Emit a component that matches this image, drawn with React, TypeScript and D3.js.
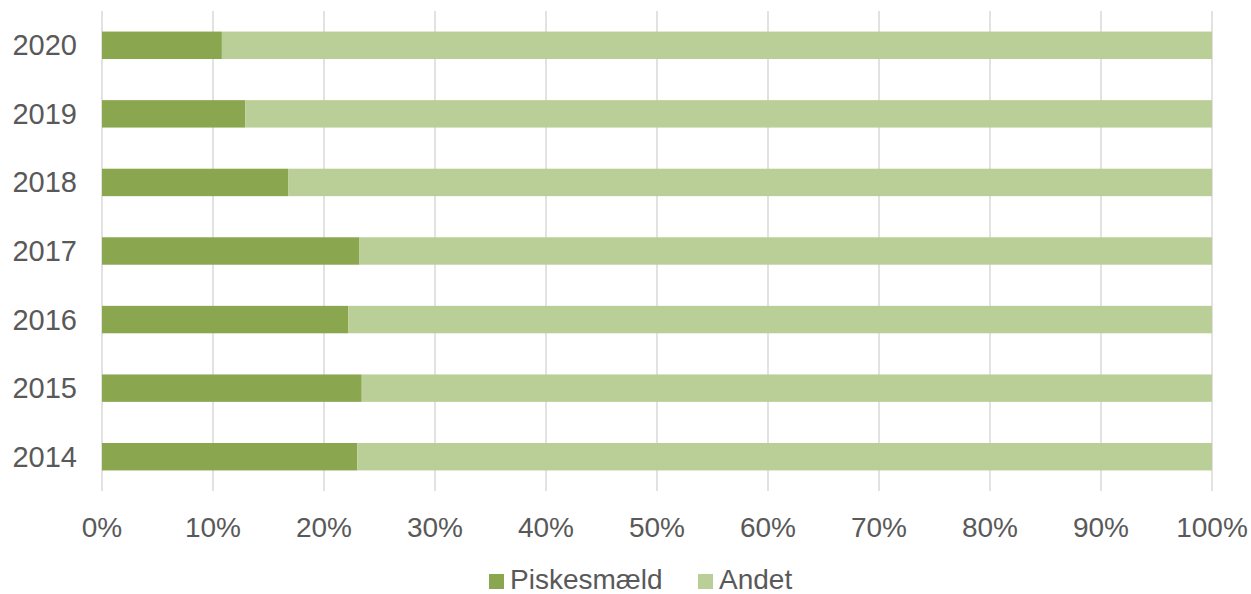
import React, { useRef, useEffect } from 'react'
import * as d3 from 'd3'

const years = ['2020', '2019', '2018', '2017', '2016', '2015', '2014']
const piskesmaeld = [10.8, 12.9, 16.8, 23.2, 22.2, 23.4, 23.0]
const andet = [89.2, 87.1, 83.2, 76.8, 77.8, 76.6, 77.0]
const seriesNames = ['Piskesmæld', 'Andet']
const colors = ['#8AA64F', '#BACE97']
const xTicks = [0, 10, 20, 30, 40, 50, 60, 70, 80, 90, 100]

const App = () => {
  const svgRef = useRef(null)

  useEffect(() => {
    const width = 1251
    const height = 594
    const marginLeft = 102
    const marginRight = 39
    const marginTop = 11
    const plotBottom = 491
    const font = 'Arial, "Liberation Sans", sans-serif'
    const textColor = '#595959'

    const svg = d3.select(svgRef.current)
    svg.selectAll('*').remove()

    const x = d3.scaleLinear([0, 100], [marginLeft, width - marginRight])
    const y = d3.scaleBand(years, [marginTop, plotBottom]).paddingInner(0.6).paddingOuter(0.3)

    // gridlines
    svg.append('g')
      .selectAll('line')
      .data(xTicks)
      .join('line')
      .attr('x1', d => x(d))
      .attr('x2', d => x(d))
      .attr('y1', marginTop)
      .attr('y2', plotBottom)
      .attr('stroke', '#D9D9D9')
      .attr('stroke-width', 1.5)

    // stacked bars
    const rows = years.map((yr, i) => ({ yr, a: piskesmaeld[i], b: andet[i] }))
    const stack = d3.stack().keys(['a', 'b'])(rows)

    svg.append('g')
      .selectAll('g')
      .data(stack)
      .join('g')
      .attr('fill', (d, i) => colors[i])
      .selectAll('rect')
      .data(d => d)
      .join('rect')
      .attr('x', d => x(d[0]))
      .attr('width', d => x(d[1]) - x(d[0]))
      .attr('y', d => y(d.data.yr))
      .attr('height', y.bandwidth())

    // x axis labels
    svg.append('g')
      .selectAll('text')
      .data(xTicks)
      .join('text')
      .attr('x', d => x(d))
      .attr('y', 537)
      .attr('text-anchor', 'middle')
      .attr('font-family', font)
      .attr('font-size', 28)
      .attr('fill', textColor)
      .text(d => d + '%')

    // y axis labels
    svg.append('g')
      .selectAll('text')
      .data(years)
      .join('text')
      .attr('x', 77)
      .attr('y', d => y(d) + y.bandwidth() / 2 + 10)
      .attr('text-anchor', 'end')
      .attr('font-family', font)
      .attr('font-size', 29)
      .attr('fill', textColor)
      .text(d => d)

    // legend
    const legendX = [489, 698]
    const legend = svg.append('g')
      .selectAll('g')
      .data(seriesNames)
      .join('g')
      .attr('transform', (d, i) => `translate(${legendX[i]},0)`)
    legend.append('rect')
      .attr('x', 0)
      .attr('y', 574)
      .attr('width', 15)
      .attr('height', 15)
      .attr('fill', (d, i) => colors[i])
    legend.append('text')
      .attr('x', 21)
      .attr('y', 589)
      .attr('font-family', font)
      .attr('font-size', 28)
      .attr('fill', textColor)
      .text(d => d)
  }, [])

  return (
    <div style={{ position: 'absolute', left: 0, top: 0 }}>
      <svg ref={svgRef} width={1251} height={594} style={{ display: 'block', background: '#fff' }} />
    </div>
  )
}

export default App
